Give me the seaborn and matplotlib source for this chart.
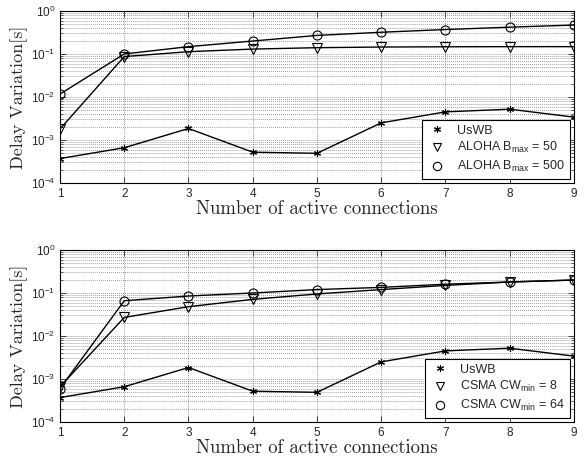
import matplotlib
matplotlib.use('Agg')
import pandas as pd
import matplotlib.pyplot as plt
import seaborn as sns
from matplotlib.lines import Line2D
from matplotlib.ticker import LogLocator, NullFormatter, FixedLocator

connections = [1, 2, 3, 4, 5, 6, 7, 8, 9]
uswb = [3.7e-4, 6.6e-4, 1.85e-3, 5.2e-4, 4.9e-4, 2.5e-3, 4.5e-3, 5.2e-3, 3.4e-3]
aloha_50 = [1.8e-3, 0.087, 0.113, 0.13, 0.14, 0.145, 0.147, 0.148, 0.148]
aloha_500 = [0.0117, 0.1, 0.148, 0.2, 0.27, 0.32, 0.37, 0.42, 0.47]
csma_8 = [6.6e-4, 0.027, 0.048, 0.071, 0.095, 0.12, 0.15, 0.18, 0.2]
csma_64 = [6.0e-4, 0.066, 0.085, 0.1, 0.12, 0.135, 0.16, 0.18, 0.2]

panels = [
    [("UsWB", uswb), (r"ALOHA B$_{\mathrm{max}}$ = 50", aloha_50), (r"ALOHA B$_{\mathrm{max}}$ = 500", aloha_500)],
    [("UsWB", uswb), (r"CSMA CW$_{\mathrm{min}}$ = 8", csma_8), (r"CSMA CW$_{\mathrm{min}}$ = 64", csma_64)],
]

sns.set_style("ticks")
plt.rcParams['font.family'] = ['Liberation Sans', 'DejaVu Sans']
plt.rcParams['mathtext.fontset'] = 'custom'
plt.rcParams['mathtext.rm'] = 'Liberation Sans'
plt.rcParams['mathtext.it'] = 'Liberation Sans:italic'
plt.rcParams['mathtext.bf'] = 'Liberation Sans:bold'

markers = [dict(marker=(6, 2, 0), markersize=5, markeredgewidth=0.8),
           dict(marker='v', markersize=6.5, markerfacecolor='none', markeredgewidth=0.8),
           dict(marker='o', markersize=6.5, markerfacecolor='none', markeredgewidth=0.8)]
leg_markers = [dict(marker=(6, 2, 0), markersize=5, markeredgewidth=0.8),
               dict(marker='v', markersize=6, markerfacecolor='none', markeredgewidth=0.8),
               dict(marker='o', markersize=6, markerfacecolor='none', markeredgewidth=0.8)]

fig = plt.figure(figsize=(5.85, 4.57), dpi=100)
axes = [fig.add_axes([0.1026, 0.5996, 0.8784, 0.3764]),
        fig.add_axes([0.1026, 0.0766, 0.8784, 0.3764])]

for ax, series in zip(axes, panels):
    handles = []
    for (name, vals), mk, lmk in zip(series, markers, leg_markers):
        df = pd.DataFrame({'x': connections, 'y': vals})
        sns.lineplot(data=df, x='x', y='y', ax=ax, color='black', linewidth=1.0,
                     markeredgecolor='black', **mk)
        handles.append(Line2D([], [], linestyle='none', color='black',
                              markeredgecolor='black', **lmk))
    ax.set_yscale('log')
    ax.set_xlim(1, 9)
    ax.set_ylim(1e-4, 1)
    ax.xaxis.set_major_locator(FixedLocator(connections))
    ax.yaxis.set_major_locator(LogLocator(base=10, numticks=10))
    ax.yaxis.set_minor_locator(LogLocator(base=10, subs=range(2, 10), numticks=10))
    ax.yaxis.set_minor_formatter(NullFormatter())
    ax.tick_params(which='both', direction='in', top=True, right=True, labelsize=8.5)
    ax.tick_params(which='major', length=4, width=0.6)
    ax.tick_params(which='minor', length=2, width=0.5)
    ax.grid(True, which='major', linestyle=':', linewidth=0.55, color='#666666')
    ax.grid(True, which='minor', axis='y', linestyle=':', linewidth=0.55, color='#666666')
    for sp in ax.spines.values():
        sp.set_linewidth(0.8)
        sp.set_color('black')
    ax.set_xlabel('Number of active connections', family='cmr10', fontsize=13.5, labelpad=0)
    ax.set_ylabel('Delay Variation[s]', family='cmr10', fontsize=13, labelpad=2)
    leg = ax.legend(handles=handles, labels=[s[0] for s in series], loc='lower right',
                    fontsize=9, fancybox=False, framealpha=1, edgecolor='black',
                    handlelength=1.6, handletextpad=0.8, borderaxespad=0.3,
                    labelspacing=0.3, borderpad=0.4)
    leg.get_frame().set_linewidth(0.8)

fig.savefig('out.png', dpi=100)
